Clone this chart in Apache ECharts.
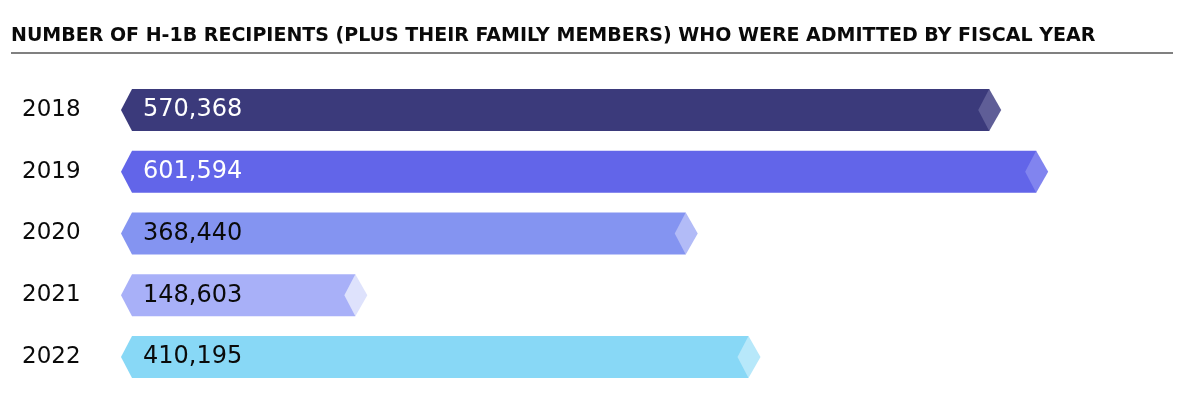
<!DOCTYPE html>
<html>
<head>
<meta charset="utf-8">
<script src="https://cdn.jsdelivr.net/npm/echarts@6/dist/echarts.min.js"></script>
<style>
html,body{margin:0;padding:0;background:#fff;}
#chart{width:1183px;height:398px;}
</style>
</head>
<body>
<div id="chart"></div>
<script>
const titleText = 'NUMBER OF H-1B RECIPIENTS (PLUS THEIR FAMILY MEMBERS) WHO WERE ADMITTED BY FISCAL YEAR';
const years = ['2018', '2019', '2020', '2021', '2022'];
const recipients = [570368, 601594, 368440, 148603, 410195];

const bodyColors = ['#3B3A7B', '#6265E9', '#8494F1', '#A8B0F8', '#88D8F6'];
const tipColors = ['#5F5E97', '#8184EF', '#B2BBF7', '#DEE2FC', '#B7E8FA'];
const labelColors = ['#ffffff', '#ffffff', '#0a0a0a', '#0a0a0a', '#0a0a0a'];

const chart = echarts.init(document.getElementById('chart'), null, {renderer: 'canvas'});

function renderItem(params, api) {
  const idx = api.value(0);
  const val = api.value(1);
  const p0 = api.coord([0, idx]);
  const p1 = api.coord([val, idx]);
  const band = api.size([0, 1])[1];
  const h = band * 0.68;
  const yc = p0[1];
  const top = yc - h / 2, bot = yc + h / 2;
  const x0 = p0[0], x1 = p1[0];
  const notch = 11;
  return {
    type: 'group',
    children: [
      {
        type: 'polygon',
        shape: {points: [[x0 - notch, yc], [x0, top], [x1, top], [x1, bot], [x0, bot]]},
        style: {fill: bodyColors[idx]}
      },
      {
        type: 'polygon',
        shape: {points: [[x1 - 11, yc], [x1, top], [x1 + 12, yc], [x1, bot]]},
        style: {fill: tipColors[idx]}
      },
      {
        type: 'text',
        x: x0 + 11,
        y: yc,
        style: {
          text: recipients[idx].toLocaleString('en-US'),
          fill: labelColors[idx],
          font: '24px "DejaVu Sans"',
          verticalAlign: 'middle',
          align: 'left'
        }
      }
    ]
  };
}

const option = {
  backgroundColor: '#ffffff',
  animation: false,
  title: {
    text: titleText,
    left: 11,
    top: 27,
    padding: 0,
    textStyle: {
      fontFamily: '"DejaVu Sans", sans-serif',
      fontWeight: 'bold',
      fontSize: 19,
      color: '#0a0a0a'
    }
  },
  graphic: [{
    type: 'rect',
    shape: {x: 11, y: 52, width: 1162, height: 2},
    style: {fill: '#808080'}
  }],
  grid: {left: 132, right: 29, top: 79, bottom: 10},
  xAxis: {
    type: 'value',
    min: 0,
    max: 680000,
    show: false
  },
  yAxis: {
    type: 'category',
    data: years,
    inverse: true,
    axisLine: {show: false},
    axisTick: {show: false},
    axisLabel: {
      show: true,
      align: 'left',
      margin: 110,
      color: '#0a0a0a',
      fontFamily: '"DejaVu Sans"',
      fontSize: 23
    }
  },
  series: [{
    type: 'custom',
    renderItem: renderItem,
    encode: {x: 1, y: 0},
    data: recipients.map((v, i) => [i, v])
  }]
};
chart.setOption(option);
</script>
</body>
</html>
